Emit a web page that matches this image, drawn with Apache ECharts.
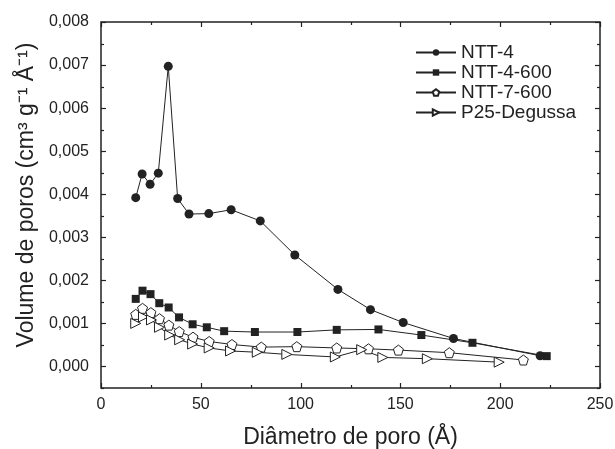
<!DOCTYPE html>
<html>
<head>
<meta charset="utf-8">
<script src="https://cdn.jsdelivr.net/npm/echarts@6/dist/echarts.min.js"></script>
<style>
  html, body { margin: 0; padding: 0; background: #fff; }
  #chart { width: 615px; height: 449px; }
</style>
</head>
<body>
<div id="chart"></div>
<script>
// valores
const ntt4 = [
  [17.4, 0.00392], [20.6, 0.00447], [24.6, 0.00423], [28.7, 0.00449], [33.7, 0.00697],
  [38.4, 0.00390], [44.1, 0.00354], [54.0, 0.00355], [65.2, 0.00364], [79.8, 0.00338],
  [97.1, 0.00259], [118.7, 0.00179], [135.0, 0.00132], [151.4, 0.00102], [176.6, 0.00065],
  [220.0, 0.00025]
];
const ntt4_600 = [
  [17.4, 0.00157], [20.8, 0.00176], [24.8, 0.00168], [29.2, 0.00147], [33.9, 0.00137],
  [39.1, 0.00114], [45.9, 0.00098], [53.0, 0.00091], [61.7, 0.00082], [77.1, 0.00080],
  [98.4, 0.00080], [118.1, 0.00085], [139.0, 0.00086], [160.5, 0.00073], [186.1, 0.00055],
  [223.3, 0.00024]
];
const ntt7_600 = [
  [17.4, 0.00121], [20.8, 0.00135], [25.0, 0.00125], [29.3, 0.00111], [34.0, 0.00096],
  [39.2, 0.00081], [46.1, 0.00068], [54.2, 0.00058], [65.6, 0.00051], [80.3, 0.00045],
  [98.1, 0.00046], [118.1, 0.00043], [134.0, 0.00041], [149.0, 0.00038], [174.5, 0.00032],
  [211.6, 0.00015]
];
const p25 = [
  [17.4, 0.00100], [21.3, 0.00115], [25.3, 0.00108], [29.3, 0.00091], [34.4, 0.00073],
  [39.4, 0.00062], [45.9, 0.00052], [54.2, 0.00043], [64.9, 0.00036], [78.3, 0.00033],
  [93.1, 0.00028], [117.4, 0.00022], [130.6, 0.00039], [141.2, 0.00021], [163.5, 0.00018],
  [199.5, 0.00010]
];
const seriesNames = ['NTT-4', 'NTT-4-600', 'NTT-7-600', 'P25-Degussa'];

// escalas dos eixos
const xMin = 0, xMax = 250, xMajor = 50;
const yMin = -0.0005, yMax = 0.008, yMajor = 0.001;

const ink = '#222';
const font = 'Liberation Sans, Arial, sans-serif';
const pentagon = 'path://M50,0 L97.6,34.5 L79.4,90.5 L20.6,90.5 L2.4,34.5 Z';
const triRight = 'path://M0,0 L100,50 L0,100 Z';

const chart = echarts.init(document.getElementById('chart'));

const fmtY = v => v < -1e-9 ? '' : v.toFixed(3).replace('.', ',');

const mkSeries = (name, data, symbol, size, filled) => ({
  name: name,
  type: 'line',
  data: data,
  symbol: symbol,
  symbolSize: size,
  lineStyle: { color: ink, width: 1 },
  itemStyle: filled
    ? { color: ink, borderColor: ink, borderWidth: 0 }
    : { color: '#fff', borderColor: ink, borderWidth: 1 }
});

chart.setOption({
  animation: false,
  grid: { left: 101, right: 15, top: 22, bottom: 61, outerBoundsMode: 'none' },
  legend: {
    orient: 'vertical',
    left: 410,
    top: 38,
    itemWidth: 40,
    itemHeight: 8,
    itemGap: 1,
    textStyle: { fontSize: 19, color: ink, fontFamily: font },
    data: seriesNames
  },
  xAxis: {
    type: 'value', min: xMin, max: xMax, interval: xMajor,
    axisLine: { show: false, onZero: false },
    axisTick: { show: false },
    splitLine: { show: false },
    name: 'Diâmetro de poro (Å)', nameLocation: 'middle', nameGap: 38,
    nameTextStyle: { fontSize: 23, color: ink, fontFamily: font },
    axisLabel: { fontSize: 16, color: ink, margin: 9, fontFamily: font }
  },
  yAxis: {
    type: 'value', min: yMin, max: yMax, splitNumber: 8,
    axisLine: { show: false, onZero: false },
    axisTick: { show: false },
    splitLine: { show: false },
    name: 'Volume de poros (cm³ g⁻¹ Å⁻¹)',
    nameLocation: 'middle', nameGap: 50,
    nameTextStyle: { fontSize: 23, color: ink, fontFamily: font, padding: [0, 0, 0, 20] },
    axisLabel: { fontSize: 16, color: ink, margin: 12, formatter: fmtY, fontFamily: font }
  },
  series: [
    mkSeries(seriesNames[0], ntt4, 'circle', 9, true),
    mkSeries(seriesNames[1], ntt4_600, 'rect', 8, true),
    mkSeries(seriesNames[2], ntt7_600, pentagon, 10, false),
    mkSeries(seriesNames[3], p25, triRight, 10, false)
  ]
});

// moldura com marcas para dentro nos quatro lados, posicionada pelas escalas
const px = v => chart.convertToPixel({ xAxisIndex: 0 }, v);
const py = v => chart.convertToPixel({ yAxisIndex: 0 }, v);
const x0 = px(xMin), x1 = px(xMax), y0 = py(yMin), y1 = py(yMax);
const tickStyle = w => ({ stroke: ink, lineWidth: w });
const frame = [{
  type: 'rect', silent: true, z: 50,
  shape: { x: x0, y: y1, width: x1 - x0, height: y0 - y1 },
  style: { fill: null, stroke: ink, lineWidth: 1.5 }
}];
for (let i = 0; i <= (xMax - xMin) / (xMajor / 2); i++) {
  const v = xMin + i * xMajor / 2;
  const len = i % 2 === 0 ? 5 : 3;
  const x = Math.round(px(v)) + 0.5;
  frame.push({ type: 'line', silent: true, z: 50, shape: { x1: x, y1: y0, x2: x, y2: y0 - len }, style: tickStyle(1.2) });
  frame.push({ type: 'line', silent: true, z: 50, shape: { x1: x, y1: y1, x2: x, y2: y1 + len }, style: tickStyle(1.2) });
}
const nY = Math.round((yMax - yMin) / (yMajor / 2));
for (let i = 0; i <= nY; i++) {
  const v = yMin + i * yMajor / 2;
  const len = i % 2 === 1 ? 5 : 3;
  const y = Math.round(py(v)) + 0.5;
  frame.push({ type: 'line', silent: true, z: 50, shape: { x1: x0, y1: y, x2: x0 + len, y2: y }, style: tickStyle(1.2) });
  frame.push({ type: 'line', silent: true, z: 50, shape: { x1: x1, y1: y, x2: x1 - len, y2: y }, style: tickStyle(1.2) });
}
chart.setOption({ graphic: frame });
</script>
</body>
</html>
